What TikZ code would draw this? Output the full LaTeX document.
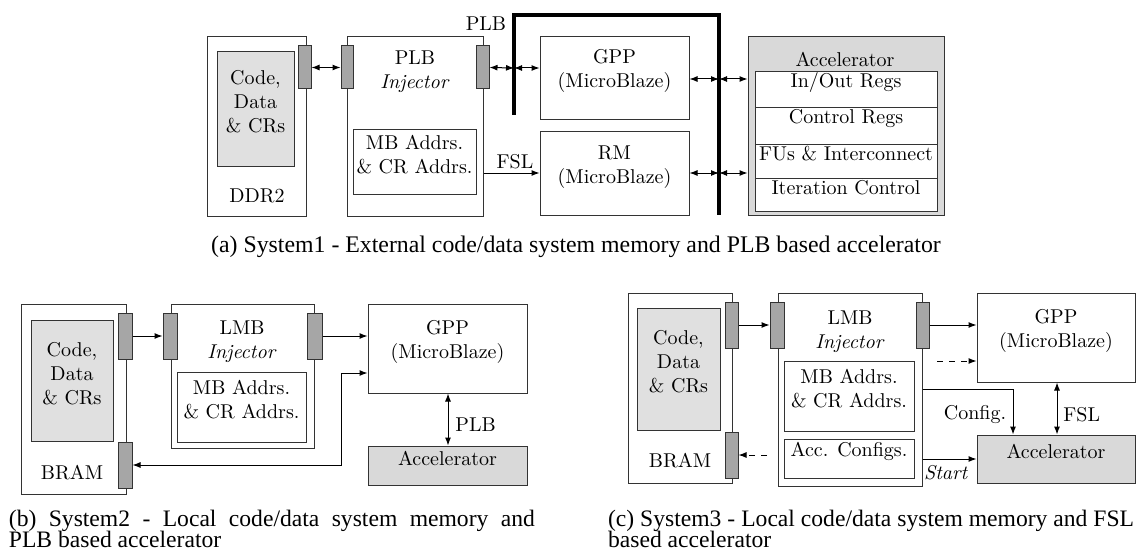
\documentclass[tikz,border=0pt]{standalone}
\usepackage{fontspec}
\newfontfamily\capfont{Liberation Serif}
\usetikzlibrary{arrows.meta,fit}

\begin{document}
\begin{tikzpicture}[x=0.5pt,y=-0.5pt,
  font=\fontsize{10}{12}\selectfont,
  blk/.style={draw=black!80, line width=0.5pt, fill=white, inner sep=0pt, align=center},
  mem/.style={blk, fill=black!12},
  acc/.style={blk, fill=black!15},
  port/.style={draw=black!80, line width=0.5pt, fill=black!35, inner sep=0pt},
  bus/.style={line width=2pt, black},
  link/.style={line width=0.5pt, black, -{Latex[length=4pt,width=3pt]}},
  dlink/.style={line width=0.5pt, black, {Latex[length=4pt,width=3pt]}-{Latex[length=4pt,width=3pt]}},
  dashlink/.style={link, dashed},
  lbl/.style={inner sep=0pt, align=center},
  captext/.style={inner sep=0pt}]
\useasboundingbox (0,0) rectangle (1145,556);

% ---------------- System1 ----------------
\node[blk, fit={(207,37)(306,216)}] (ddr) {};
\node[mem, fit={(217,52)(294,166)}] (ddrmem) {Code,\\Data\\\& CRs};
\node[lbl] (ddrlbl) at (257,196) {DDR2};
\node[blk, fit={(347,37)(483,216)}] (pinj) {};
\node[lbl] (pinjlbl) at (415,72) {PLB\\\textit{Injector}};
\node[blk, fit={(353,130)(476,194)}] (ptab) {MB Addrs.\\\& CR Addrs.};
\node[port, fit={(298,46)(311,89)}] (ddrp) {};
\node[port, fit={(341,46)(353,89)}] (pinjl) {};
\node[port, fit={(476,46)(489,89)}] (pinjr) {};
\node[blk, fit={(540,37)(689,120)}] (gppa) {GPP\\(MicroBlaze)};
\node[blk, fit={(540,132)(689,215)}] (rma) {RM\\(MicroBlaze)};
\node[acc, fit={(748,37)(944,215)}] (acca) {};
\node[lbl] (accalbl) at (845,59) {Accelerator};
\node[blk, fit={(755,72)(937,108)}] (row1) {In/Out Regs};
\node[blk, fit={(755,108)(937,144)}] (row2) {Control Regs};
\node[blk, fit={(755,144)(937,178)}] (row3) {FUs \& Interconnect};
\node[blk, fit={(755,178)(937,211)}] (row4) {Iteration Control};

% PLB bus
\coordinate (busA) at (514,115);
\coordinate (busB) at (514,15);
\coordinate (busC) at (719,15);
\coordinate (busD) at (719,215);
\draw[bus] (busA) -- (busB) -- (busC) -- (busD);
\node[lbl] (plblbl) at (486,24) {PLB};

\coordinate (tapL) at (514,68);
\coordinate (tapR1) at (719,79);
\coordinate (tapR2) at (719,173);
\draw[dlink] (ddrp.east) -- (pinjl.west);
\draw[dlink] (pinjr.east) -- (tapL);
\draw[dlink] (tapL) -- (tapL -| gppa.west);
\draw[dlink] (tapR1 -| gppa.east) -- (tapR1);
\draw[dlink] (tapR1) -- (tapR1 -| acca.west);
\draw[dlink] (tapR2 -| rma.east) -- (tapR2);
\draw[dlink] (tapR2) -- (tapR2 -| acca.west);
\draw[link] (tapR2 -| pinj.east) -- (tapR2 -| rma.west);
\node[lbl] (fsla) at (515,162) {FSL};

% ---------------- System2 ----------------
\node[blk, fit={(21,304)(126,494)}] (bramb) {};
\node[mem, fit={(31,320)(113,441)}] (memb) {Code,\\Data\\\& CRs};
\node[lbl] (bramblbl) at (72,473) {BRAM};
\node[blk, fit={(171,304)(314,448)}] (linjb) {};
\node[lbl] (linjblbl) at (242,342) {LMB\\\textit{Injector}};
\node[blk, fit={(177,372)(306,442)}] (tabb) {MB Addrs.\\\& CR Addrs.};
\node[port, fit={(118,313)(132,359)}] (bpt) {};
\node[port, fit={(118,442)(132,488)}] (bpb) {};
\node[port, fit={(163,313)(177,359)}] (lbl1) {};
\node[port, fit={(307,313)(322,359)}] (lbr1) {};
\node[blk, fit={(368,304)(527,393)}] (gppb) {GPP\\(MicroBlaze)};
\node[acc, fit={(368,446)(527,485)}] (accb) {Accelerator};

\draw[link] (bpt.east) -- (lbl1.west);
\draw[link] (lbr1.east) -- (lbr1.east -| gppb.west);
\coordinate (retb) at (341,465);
\coordinate (retc) at (341,373);
\draw[dlink] (bpb.east) -- (retb) -- (retc) -- (retc -| gppb.west);
\coordinate (plbx) at (448,0);
\draw[dlink] (plbx |- gppb.south) -- (plbx |- accb.north);
\node[lbl, anchor=west] (plbb) at (455,425) {PLB};

% ---------------- System3 ----------------
\node[blk, fit={(628,293)(732,483)}] (bramc) {};
\node[mem, fit={(637,308)(720,430)}] (memc) {Code,\\Data\\\& CRs};
\node[lbl] (bramclbl) at (680,461) {BRAM};
\node[blk, fit={(778,293)(922,486)}] (linjc) {};
\node[lbl] (linjclbl) at (850,332) {LMB\\\textit{Injector}};
\node[blk, fit={(784,361)(914,431)}] (tabc) {MB Addrs.\\\& CR Addrs.};
\node[blk, fit={(784,439)(914,478)}] (cfgc) {Acc. Configs.};
\node[port, fit={(725,302)(738,348)}] (cpt) {};
\node[port, fit={(725,432)(738,478)}] (cpb) {};
\node[port, fit={(770,302)(784,348)}] (lcl) {};
\node[port, fit={(916,302)(929,348)}] (lcr) {};
\node[blk, fit={(977,293)(1135,382)}] (gppc) {GPP\\(MicroBlaze)};
\node[acc, fit={(977,435)(1135,483)}] (accc) {Accelerator};

\draw[link] (cpt.east) -- (lcl.west);
\draw[link] (lcr.east) -- (lcr.east -| gppc.west);
\coordinate (dsh1) at (937,361);
\draw[dashlink] (dsh1) -- (dsh1 -| gppc.west);
\coordinate (dsh2) at (767,455);
\draw[dashlink] (dsh2) -- (cpb.east);
\coordinate (cfgy) at (0,389);
\coordinate (cfgx) at (1013,0);
\draw[link] (cfgy -| linjc.east) -| (cfgx |- accc.north);
\node[lbl] (cfglbl) at (975,415) {Config.};
\coordinate (fslx) at (1057,0);
\draw[dlink] (fslx |- gppc.south) -- (fslx |- accc.north);
\node[lbl, anchor=west] (fslc) at (1063,415) {FSL};
\coordinate (sty) at (0,459);
\draw[link] (sty -| linjc.east) -- (sty -| accc.west);
\node[lbl] (startlbl) at (946,473) {\textit{Start}};

% ---------------- captions ----------------
\node[captext, anchor=base] (capa) at (576,252)
  {\capfont\fontsize{11.9}{11}\selectfont (a) System1 - External code/data system memory and PLB based accelerator};
\node[captext, anchor=base west] (capb) at (8.5,526)
  {\parbox[t]{263pt}{\capfont\fontsize{11.8}{10.75}\selectfont (b) System2 - Local code/data system memory and\linebreak PLB based accelerator}};
\node[captext, anchor=base west] (capc) at (607.7,526)
  {\parbox[t]{263pt}{\capfont\fontsize{11.8}{10.75}\selectfont (c) System3 - Local code/data system memory and FSL\linebreak based accelerator}};
\end{tikzpicture}
\end{document}
